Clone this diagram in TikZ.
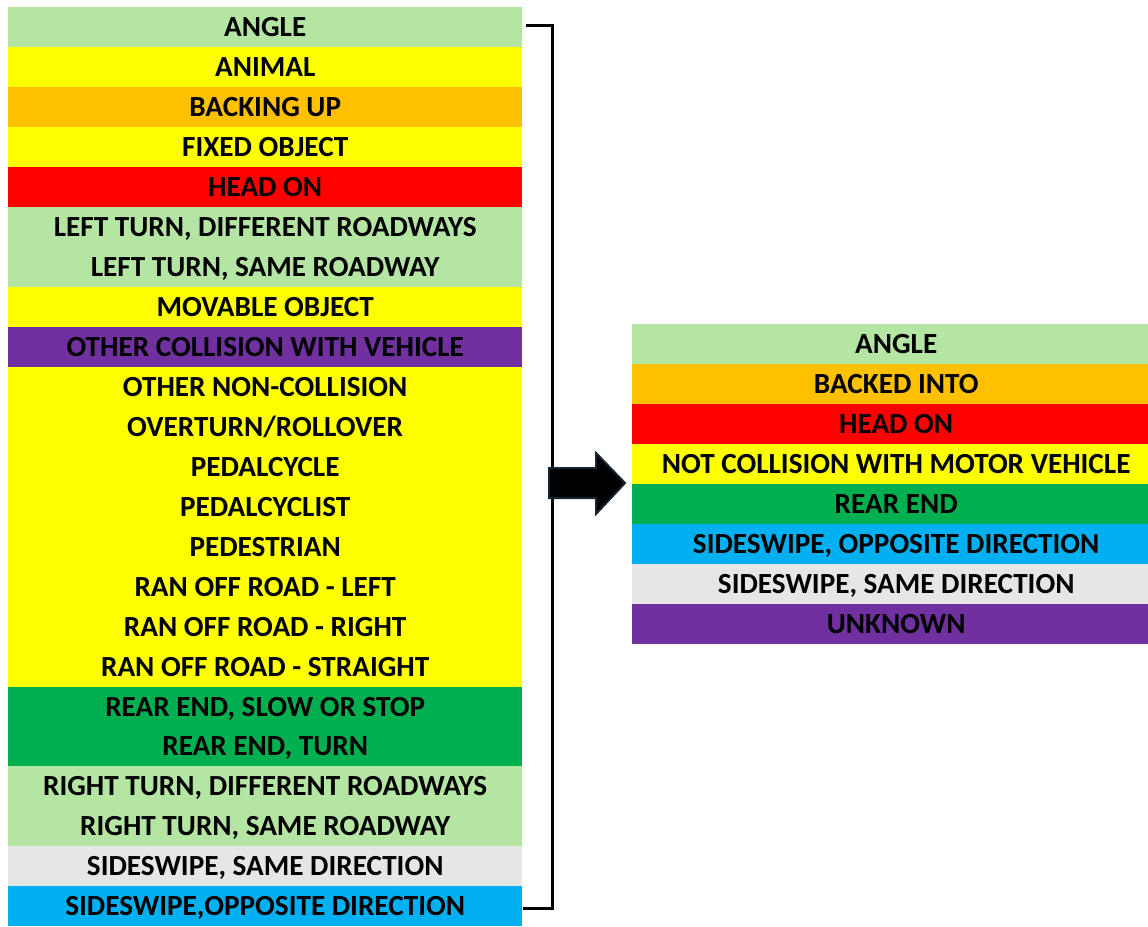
\documentclass[tikz,border=0pt]{standalone}
\usepackage{fontspec}
\setmainfont{Carlito}
\definecolor{lgreen}{HTML}{B4E5A2}
\definecolor{yel}{HTML}{FFFF00}
\definecolor{orng}{HTML}{FFC000}
\definecolor{rd}{HTML}{FF0000}
\definecolor{purp}{HTML}{7030A0}
\definecolor{grn}{HTML}{00B050}
\definecolor{cyn}{HTML}{00B0F0}
\definecolor{lgrey}{HTML}{E7E6E6}
\definecolor{arrowedge}{HTML}{14232E}
\tikzset{
  cat/.style={rectangle, inner sep=0, minimum height=40, text=black,
    text height=19, text depth=-3,
    font=\fontsize{29.2}{30}\selectfont\bfseries},
  bracketline/.style={line width=3, black},
}
\begin{document}
\begin{tikzpicture}[x=1pt, y=-1pt]
    \useasboundingbox (0, 0) rectangle (1148, 926);
    % original categories
    \foreach \c/\t [count=\i] in {lgreen/ANGLE, yel/ANIMAL, orng/BACKING UP,
        yel/FIXED OBJECT, rd/HEAD ON, lgreen/{LEFT TURN, DIFFERENT ROADWAYS},
        lgreen/{LEFT TURN, SAME ROADWAY}, yel/MOVABLE OBJECT,
        purp/OTHER COLLISION WITH VEHICLE, yel/OTHER NON-COLLISION,
        yel/{OVERTURN/ROLLOVER}, yel/PEDALCYCLE, yel/PEDALCYCLIST, yel/PEDESTRIAN,
        yel/RAN OFF ROAD - LEFT, yel/RAN OFF ROAD - RIGHT,
        yel/RAN OFF ROAD - STRAIGHT, grn/{REAR END, SLOW OR STOP},
        grn/{REAR END, TURN}, lgreen/{RIGHT TURN, DIFFERENT ROADWAYS},
        lgreen/{RIGHT TURN, SAME ROADWAY}, lgrey/{SIDESWIPE, SAME DIRECTION},
        cyn/{SIDESWIPE,OPPOSITE DIRECTION}}
        \node[cat, fill=\c, minimum width=514, anchor=north west]
            (l\i) at (8, 7+39.96*\i-39.96) {\t};
    % aggregated categories (table runs past the right edge)
    \foreach \c/\t [count=\i] in {lgreen/ANGLE, orng/BACKED INTO, rd/HEAD ON,
        yel/NOT COLLISION WITH MOTOR VEHICLE, grn/REAR END,
        cyn/{SIDESWIPE, OPPOSITE DIRECTION}, lgrey/{SIDESWIPE, SAME DIRECTION},
        purp/UNKNOWN}
        \node[cat, fill=\c, minimum width=528, anchor=north west]
            (r\i) at (632, 324+40*\i-40) {\t};
    % bracket
    \coordinate (btop) at ([xshift=4, yshift=2]l1.east);
    \coordinate (bbot) at ([xshift=1, yshift=-2]l23.east);
    \draw[bracketline] (btop) -- (btop -| 552, 0) -- (bbot -| 552, 0) -- (bbot);
    % block arrow
    \draw[line width=2, draw=arrowedge, fill=black, line join=miter]
        (549, 468) -- (596, 468) -- (596, 453) -- (625, 483)
        -- (596, 514) -- (596, 498) -- (549, 498) -- cycle;
\end{tikzpicture}
\end{document}
